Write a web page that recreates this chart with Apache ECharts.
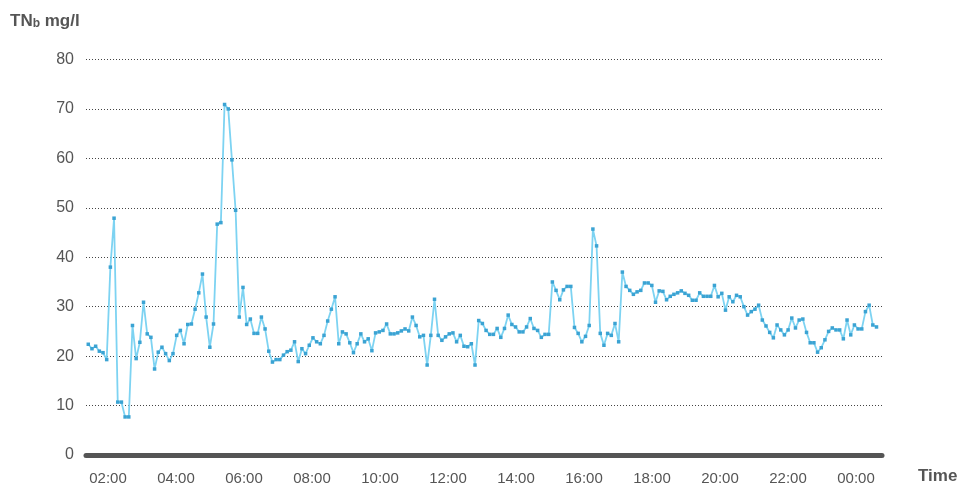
<!DOCTYPE html>
<html>
<head>
<meta charset="utf-8">
<script src="https://cdn.jsdelivr.net/npm/echarts@6/dist/echarts.min.js"></script>
<style>
  html, body { margin: 0; padding: 0; background: #fff; }
  #chart { width: 963px; height: 486px; }
</style>
</head>
<body>
<div id="chart"></div>
<script>
// x positions in hours since midnight of the first day (24 = 00:00 next day)
var startHour = 1.42;
var stepMinutes = 6.5;

var tnbValues = [
  22.4, 21.5, 22.0, 21.0, 20.7, 19.3, 38.0, 47.9, 10.7, 10.7,
  7.7, 7.7, 26.2, 19.5, 22.8, 30.9, 24.5, 23.8, 17.4, 20.8,
  21.8, 20.5, 19.1, 20.5, 24.2, 25.2, 22.5, 26.4, 26.5, 29.5,
  32.8, 36.6, 27.9, 21.8, 26.5, 46.7, 47.0, 70.9, 70.0, 59.7,
  49.5, 27.9, 33.9, 26.4, 27.5, 24.6, 24.6, 27.9, 25.5, 21.0,
  18.8, 19.3,
  19.3, 20.2, 20.9, 21.2, 22.9, 18.9, 21.5, 20.5, 22.2, 23.7,
  22.9, 22.5, 24.2, 27.1, 29.5, 32.0, 22.5, 24.9, 24.5, 22.7,
  20.7, 22.5, 24.5, 22.9, 23.5, 21.1, 24.7, 24.9, 25.2, 26.5,
  24.5, 24.5, 24.7, 25.1, 25.5, 25.1, 27.9, 26.2, 23.9, 24.2,
  18.2, 24.2, 31.5, 24.2, 23.2, 23.9, 24.5, 24.7, 22.9, 24.2,
  22.0, 21.9, 22.5, 18.2, 27.2,
  26.6, 25.2, 24.4, 24.4, 25.6, 23.8, 25.6, 28.3, 26.4, 25.9,
  24.9, 24.9, 25.9, 27.6, 25.6, 25.2, 23.8, 24.4, 24.4, 35.0,
  33.3, 31.4, 33.4, 34.1, 34.1, 25.8, 24.6, 22.9, 24.0, 26.2,
  45.7, 42.3, 24.6, 22.2, 24.6, 24.2, 26.6, 22.9, 37.0, 34.1,
  33.3, 32.5, 33.0, 33.3, 34.8, 34.8, 34.3, 30.9, 33.2, 33.1,
  31.4, 32.1, 32.5, 32.8,
  33.2, 32.7, 32.3, 31.3, 31.3, 32.8, 32.1, 32.1, 32.1, 34.3,
  32.0, 32.7, 29.3, 32.0, 31.0, 32.3, 32.0, 30.0, 28.3, 29.0,
  29.5, 30.3, 27.3, 26.1, 24.8, 23.7, 26.3, 25.3, 24.3, 25.3,
  27.7, 25.7, 27.3, 27.5, 24.8, 22.7, 22.7, 20.8, 21.7, 23.3,
  25.0, 25.7, 25.3, 25.3, 23.5, 27.3, 24.3, 26.3, 25.5, 25.5,
  29.0, 30.3, 26.3, 25.9
];

var hourTicks = [2, 4, 6, 8, 10, 12, 14, 16, 18, 20, 22, 24];
var tickLabels = ['02:00', '04:00', '06:00', '08:00', '10:00', '12:00',
  '14:00', '16:00', '18:00', '20:00', '22:00', '00:00'];

var points = tnbValues.map(function (v, i) {
  return [startHour + i * stepMinutes / 60, v];
});

var chart = echarts.init(document.getElementById('chart'), null, { renderer: 'canvas' });

var textColor = '#555';
var font = 'Liberation Sans, Arial, sans-serif';

var option = {
  animation: false,
  backgroundColor: '#fff',
  title: {
    text: 'TN{sub|b} mg/l',
    left: 5,
    top: 7,
    textStyle: {
      fontFamily: font,
      fontSize: 17,
      fontWeight: 'bold',
      color: textColor,
      rich: {
        sub: {
          fontFamily: font,
          fontSize: 12,
          fontWeight: 'bold',
          color: textColor,
          verticalAlign: 'bottom',
          padding: [6, 0, 0, 0]
        }
      }
    }
  },
  grid: {
    left: 86,
    right: 81,
    top: 59.5,
    bottom: 30.5,
    containLabel: false
  },
  xAxis: {
    type: 'value',
    min: 1.353,
    max: 24.765,
    offset: 2,
    name: 'Time',
    nameLocation: 'end',
    nameGap: 36,
    nameTextStyle: {
      fontFamily: font,
      fontSize: 17,
      fontWeight: 'bold',
      color: textColor,
      align: 'left',
      verticalAlign: 'top',
      padding: [13, 0, 0, 0]
    },
    axisLine: { show: true, lineStyle: { color: '#555', width: 5 } },
    axisTick: { show: false },
    splitLine: { show: false },
    axisLabel: {
      customValues: hourTicks,
      margin: 14,
      fontFamily: font,
      fontSize: 15,
      color: textColor,
      formatter: function (v) {
        var idx = hourTicks.indexOf(Math.round(v));
        return idx >= 0 ? tickLabels[idx] : '';
      }
    }
  },
  yAxis: {
    type: 'value',
    min: 0,
    max: 80,
    interval: 10,
    axisLine: { show: false },
    axisTick: { show: false },
    axisLabel: {
      margin: 12,
      fontFamily: font,
      fontSize: 16,
      color: textColor
    },
    splitLine: {
      show: true,
      lineStyle: { color: '#444', width: 1, type: [1, 2] }
    }
  },
  series: [{
    type: 'line',
    data: points,
    symbol: 'rect',
    symbolSize: 3.5,
    showSymbol: true,
    itemStyle: { color: '#3ba3d3' },
    lineStyle: { color: '#7dd3f2', width: 1.8 },
    z: 3
  }]
};

chart.setOption(option);
</script>
</body>
</html>
